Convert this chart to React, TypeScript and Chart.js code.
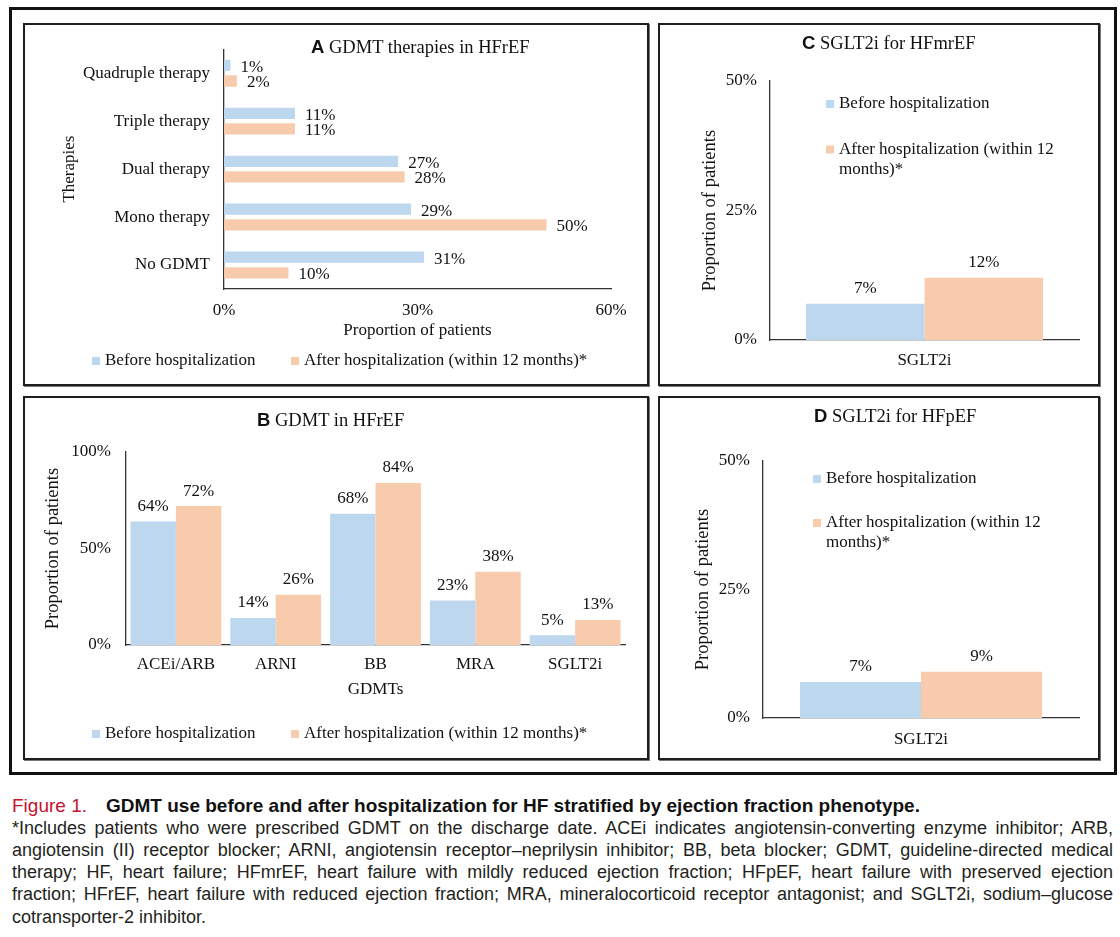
import React, { useEffect, useRef } from "react";
import { Chart, registerables } from "chart.js";

Chart.register(...registerables);

const SERIF = "'Liberation Serif', 'Times New Roman', Times, serif";
const SANS = "'Liberation Sans', Arial, Helvetica, sans-serif";
const INK = "#111111";
const AXIS = "#333333";

// ---------------- data ----------------
const seriesNames = ["Before hospitalization", "After hospitalization (within 12 months)*"];
const seriesColors = ["#BDD7EE", "#F8CBAD"];

// A: GDMT therapies in HFrEF
const therapyLabels = ["Quadruple therapy", "Triple therapy", "Dual therapy", "Mono therapy", "No GDMT"];
const therapyBefore = [1, 11, 27, 29, 31];
const therapyAfter = [2, 11, 28, 50, 10];
const therapyTicks = [0, 30, 60];

// B: GDMT in HFrEF
const gdmtLabels = ["ACEi/ARB", "ARNI", "BB", "MRA", "SGLT2i"];
const gdmtBefore = [64, 14, 68, 23, 5];
const gdmtAfter = [72, 26, 84, 38, 13];
const gdmtTicks = [0, 50, 100];

// C: SGLT2i for HFmrEF
const mrefLabels = ["SGLT2i"];
const mrefBefore = [7];
const mrefAfter = [12];

// D: SGLT2i for HFpEF
const pefLabels = ["SGLT2i"];
const pefBefore = [7];
const pefAfter = [9];

const sgltTicks = [0, 25, 50];

// ---------------- plugins ----------------
const valueLabelPlugin: any = {
  id: "valueLabels",
  afterDatasetsDraw(chart: any, _a: any, opts: any) {
    const { ctx } = chart;
    const horizontal = chart.options.indexAxis === "y";
    ctx.save();
    ctx.font = `${opts.size || 17}px ${SERIF}`;
    ctx.fillStyle = INK;
    ctx.textBaseline = "middle";
    chart.data.datasets.forEach((ds: any, di: number) => {
      const meta = chart.getDatasetMeta(di);
      meta.data.forEach((el: any, i: number) => {
        const text = `${ds.data[i]}%`;
        if (horizontal) {
          ctx.textAlign = "left";
          ctx.fillText(text, el.x + opts.gap, el.y + (opts.dy || 0));
        } else {
          ctx.textAlign = "center";
          ctx.fillText(text, el.x, el.y - opts.gap);
        }
      });
    });
    ctx.restore();
  },
};

const boxLegendPlugin: any = {
  id: "boxLegend",
  afterDraw(chart: any, _a: any, opts: any) {
    const { ctx } = chart;
    const size = opts.size || 17;
    const box = opts.box || 8;
    const gap = opts.gap || 5;
    const lineGap = opts.lineGap || 20;
    ctx.save();
    ctx.font = `${size}px ${SERIF}`;
    ctx.textBaseline = "middle";
    ctx.textAlign = "left";
    (opts.items || []).forEach((it: any, i: number) => {
      const ds = chart.data.datasets[i];
      ctx.fillStyle = ds.backgroundColor;
      ctx.fillRect(it.x, it.y - box / 2, box, box);
      ctx.fillStyle = INK;
      const words = String(ds.label).split(" ");
      const lines: string[] = [];
      let cur = "";
      const maxW = opts.maxWidth || 10000;
      words.forEach((w) => {
        const test = cur ? cur + " " + w : w;
        if (ctx.measureText(test).width > maxW && cur) {
          lines.push(cur);
          cur = w;
        } else cur = test;
      });
      if (cur) lines.push(cur);
      lines.forEach((ln, k) => ctx.fillText(ln, it.x + box + gap, it.y + k * lineGap));
    });
    ctx.restore();
  },
};

// ---------------- helpers ----------------
const noGrid = { display: false, drawTicks: false };
const axisBorder = { display: true, color: AXIS, width: 1.3 };

function valueScale(ticks: number[], pad: number, title: string | null, titleSize: number, fit: (s: any) => void) {
  return {
    type: "linear",
    min: ticks[0],
    max: ticks[ticks.length - 1],
    afterBuildTicks: (s: any) => {
      s.ticks = ticks.map((v) => ({ value: v }));
    },
    ticks: {
      callback: (v: any) => `${v}%`,
      padding: pad,
      maxRotation: 0,
      color: INK,
      font: { family: SERIF, size: 17 },
    },
    grid: noGrid,
    border: axisBorder,
    title: title
      ? { display: true, text: title, color: INK, padding: 0, font: { family: SERIF, size: titleSize } }
      : { display: false },
    afterFit: fit,
  };
}

function indexScale(pad: number, title: string | null, titleSize: number, fit: (s: any) => void) {
  return {
    type: "category",
    ticks: { padding: pad, maxRotation: 0, autoSkip: false, color: INK, font: { family: SERIF, size: 17 } },
    grid: noGrid,
    border: axisBorder,
    title: title
      ? { display: true, text: title, color: INK, padding: 0, font: { family: SERIF, size: titleSize } }
      : { display: false },
    afterFit: fit,
  };
}

function datasets(before: number[], after: number[], catPct: number, barPct: number) {
  return [
    { label: seriesNames[0], data: before, backgroundColor: seriesColors[0], categoryPercentage: catPct, barPercentage: barPct },
    { label: seriesNames[1], data: after, backgroundColor: seriesColors[1], categoryPercentage: catPct, barPercentage: barPct },
  ];
}

const baseOptions = {
  responsive: true,
  maintainAspectRatio: false,
  animation: false,
  events: [],
};
const basePlugins = { legend: { display: false }, title: { display: false }, tooltip: { enabled: false } };

// ---------------- chart configs ----------------
const cfgA = () => ({
  type: "bar",
  data: { labels: therapyLabels, datasets: datasets(therapyBefore, therapyAfter, 0.653, 0.72) },
  options: {
    ...baseOptions,
    indexAxis: "y",
    layout: { padding: { left: 34.8, top: 19, right: 36, bottom: 42.8 } },
    plugins: {
      ...basePlugins,
      valueLabels: { gap: 10, dy: 2 },
      boxLegend: { items: [{ x: 67, y: 336 }, { x: 266, y: 336 }] },
    },
    scales: {
      x: valueScale(therapyTicks, 11, "Proportion of patients", 17, (s: any) => { s.height = 52.2; }),
      y: indexScale(14, "Therapies", 17, (s: any) => { s.width = 164.2; }),
    },
  },
  plugins: [valueLabelPlugin, boxLegendPlugin],
});

const cfgB = () => ({
  type: "bar",
  data: { labels: gdmtLabels, datasets: datasets(gdmtBefore, gdmtAfter, 0.91, 1) },
  options: {
    ...baseOptions,
    layout: { padding: { left: 16.9, top: 54, right: 22, bottom: 57.8 } },
    plugins: {
      ...basePlugins,
      valueLabels: { gap: 15 },
      boxLegend: { items: [{ x: 67, y: 336 }, { x: 266, y: 336 }] },
    },
    scales: {
      x: indexScale(9.8, "GDMTs", 17, (s: any) => { s.height = 55.2; }),
      y: valueScale(gdmtTicks, 15, "Proportion of patients", 18.5, (s: any) => { s.width = 84.1; }),
    },
  },
  plugins: [valueLabelPlugin, boxLegendPlugin],
});

const cfgC = () => ({
  type: "bar",
  data: { labels: mrefLabels, datasets: datasets(mrefBefore, mrefAfter, 0.767, 1) },
  options: {
    ...baseOptions,
    layout: { padding: { left: 38.9, top: 56, right: 19, bottom: 4 } },
    plugins: {
      ...basePlugins,
      valueLabels: { gap: 15 },
      boxLegend: { maxWidth: 235, items: [{ x: 166, y: 79 }, { x: 166, y: 124.5 }] },
    },
    scales: {
      x: indexScale(10.8, null, 17, (s: any) => { s.height = 40; }),
      y: valueScale(sgltTicks, 13, "Proportion of patients", 18.5, (s: any) => { s.width = 71.1; }),
    },
  },
  plugins: [valueLabelPlugin, boxLegendPlugin],
});

const cfgD = () => ({
  type: "bar",
  data: { labels: pefLabels, datasets: datasets(pefBefore, pefAfter, 0.766, 1) },
  options: {
    ...baseOptions,
    layout: { padding: { left: 31.9, top: 63, right: 19, bottom: 4 } },
    plugins: {
      ...basePlugins,
      valueLabels: { gap: 15 },
      boxLegend: { maxWidth: 235, items: [{ x: 153, y: 81 }, { x: 153, y: 125 }] },
    },
    scales: {
      x: indexScale(11.8, null, 17, (s: any) => { s.height = 36; }),
      y: valueScale(sgltTicks, 13, "Proportion of patients", 18.5, (s: any) => { s.width = 71.1; }),
    },
  },
  plugins: [valueLabelPlugin, boxLegendPlugin],
});

// ---------------- components ----------------
function ChartBox({ left, top, width, height, build }: any) {
  const ref = useRef<HTMLCanvasElement | null>(null);
  useEffect(() => {
    if (!ref.current) return;
    const chart = new Chart(ref.current, build() as any);
    return () => chart.destroy();
  }, [build]);
  return (
    <div style={{ position: "absolute", left, top, width, height }}>
      <canvas ref={ref} />
    </div>
  );
}

function Panel({ left, top, width, height }: any) {
  return (
    <div
      style={{
        position: "absolute",
        left,
        top,
        width,
        height,
        boxSizing: "border-box",
        border: "2px solid #1e1e1e",
        boxShadow: "1px 1px 0 #777",
        background: "#fff",
      }}
    />
  );
}

function PanelTitle({ left, cy, letter, text }: any) {
  return (
    <div
      style={{
        position: "absolute",
        left,
        top: cy - 12,
        height: 24,
        lineHeight: "24px",
        whiteSpace: "nowrap",
        fontFamily: SERIF,
        fontSize: 18.5,
        color: INK,
      }}
    >
      <span style={{ fontFamily: SANS, fontWeight: "bold" }}>{letter}</span> {text}
    </div>
  );
}

const captionLines = [
  "*Includes patients who were prescribed GDMT on the discharge date. ACEi indicates angiotensin-converting enzyme inhibitor; ARB,",
  "angiotensin (II) receptor blocker; ARNI, angiotensin receptor\u2013neprilysin inhibitor; BB, beta blocker; GDMT, guideline-directed medical",
  "therapy; HF, heart failure; HFmrEF, heart failure with mildly reduced ejection fraction; HFpEF, heart failure with preserved ejection",
  "fraction; HFrEF, heart failure with reduced ejection fraction; MRA, mineralocorticoid receptor antagonist; and SGLT2i, sodium\u2013glucose",
  "cotransporter-2 inhibitor.",
];

export default function App() {
  return (
    <div style={{ position: "absolute", left: 0, top: 0, width: 1120, height: 937, background: "#fff", overflow: "hidden" }}>
      <div
        style={{
          position: "absolute",
          left: 9,
          top: 7,
          width: 1108,
          height: 768,
          boxSizing: "border-box",
          border: "3px solid #111",
        }}
      />
      <Panel left={23} top={23} width={626} height={363} />
      <Panel left={23} top={396} width={626} height={364} />
      <Panel left={658} top={23} width={442} height={363} />
      <Panel left={658} top={396} width={442} height={364} />

      <ChartBox left={25} top={25} width={622} height={359} build={cfgA} />
      <ChartBox left={25} top={398} width={622} height={360} build={cfgB} />
      <ChartBox left={660} top={25} width={438} height={359} build={cfgC} />
      <ChartBox left={660} top={398} width={438} height={360} build={cfgD} />

      <PanelTitle left={311} cy={47} letter="A" text="GDMT therapies in HFrEF" />
      <PanelTitle left={257} cy={420} letter="B" text="GDMT in HFrEF" />
      <PanelTitle left={802} cy={43} letter="C" text="SGLT2i for HFmrEF" />
      <PanelTitle left={814} cy={416} letter="D" text="SGLT2i for HFpEF" />

      <div
        style={{
          position: "absolute",
          left: 12,
          top: 794,
          height: 23,
          lineHeight: "23px",
          whiteSpace: "nowrap",
          fontFamily: SANS,
          fontSize: 19,
        }}
      >
        <span style={{ color: "#c4122f" }}>Figure 1.</span>
        <span style={{ position: "absolute", left: 94, fontWeight: "bold", color: "#111" }}>
          GDMT use before and after hospitalization for HF stratified by ejection fraction phenotype.
        </span>
      </div>
      {captionLines.map((ln, i) => (
        <div
          key={i}
          style={{
            position: "absolute",
            left: 12,
            top: 816.5 + i * 22.3,
            width: 1101,
            height: 22,
            lineHeight: "22px",
            fontFamily: SANS,
            fontSize: 18,
            color: "#231f20",
            textAlign: "justify",
            textAlignLast: i === captionLines.length - 1 ? "left" : "justify",
          }}
        >
          {ln}
        </div>
      ))}
    </div>
  );
}
